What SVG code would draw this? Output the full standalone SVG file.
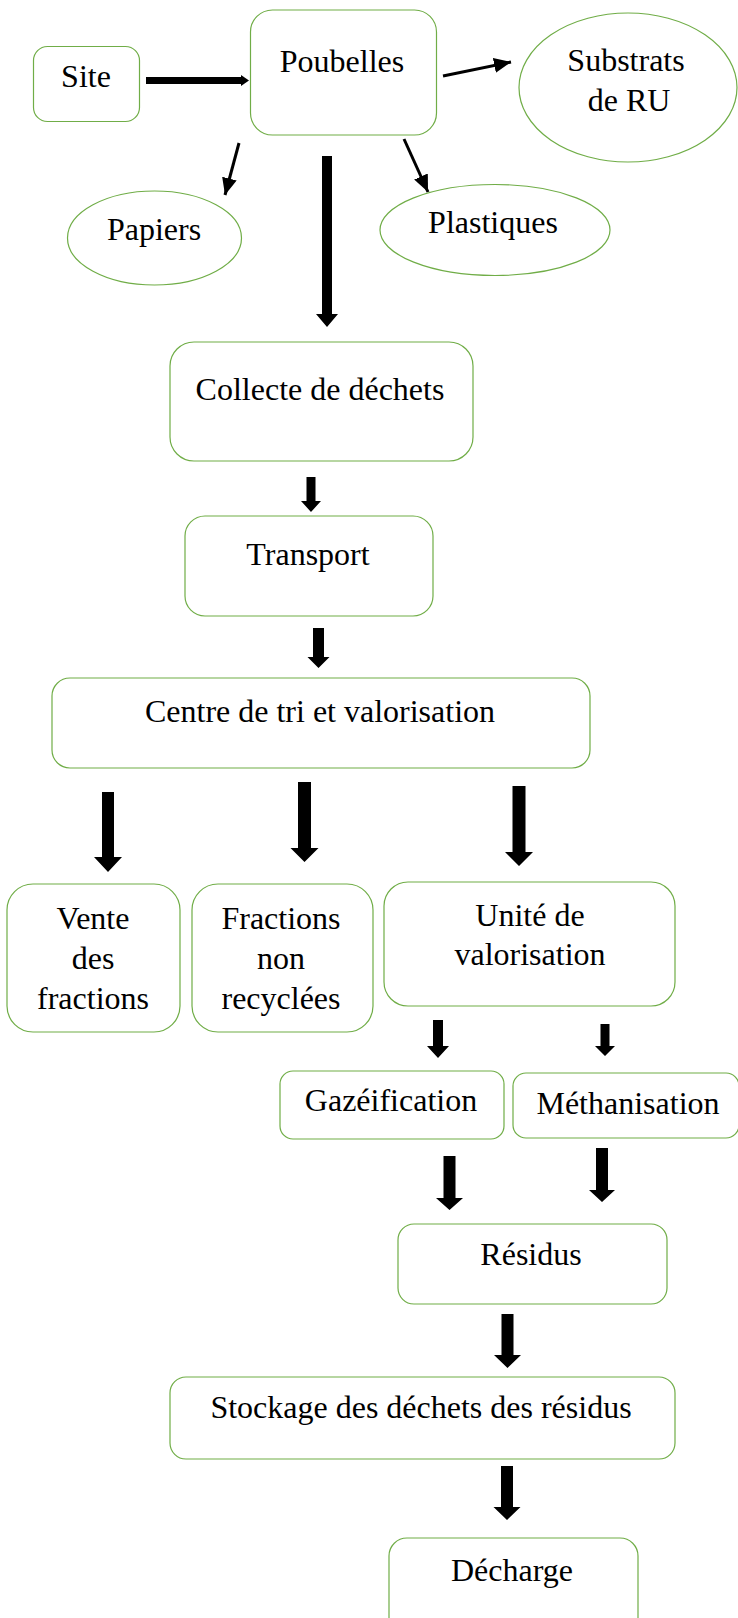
<svg xmlns="http://www.w3.org/2000/svg" width="738" height="1618" viewBox="0 0 738 1618">
<defs>
<style>
.box{fill:#fff;stroke:#70AD47;stroke-width:1.2}
.t{font-family:"Liberation Serif","Times New Roman",serif;font-size:32px;fill:#000;text-anchor:middle}
.blk{fill:#000}
.thin{stroke:#000;stroke-width:3;fill:none}
</style>
<marker id="ah" markerUnits="userSpaceOnUse" markerWidth="18" markerHeight="16" refX="17" refY="7.5" orient="auto" viewBox="0 0 18 16">
<path d="M0,0 L17,7.5 L0,15 z" fill="#000"/>
</marker>
</defs>
<rect width="738" height="1618" fill="#fff"/>

<g id="site"><rect class="box" x="33.5" y="46.5" width="106" height="75" rx="14"/><text class="t" x="86" y="87">Site</text></g>
<g id="poubelles"><rect class="box" x="250.5" y="10" width="186" height="125" rx="22"/><text class="t" x="342" y="72">Poubelles</text></g>
<g id="substrats"><ellipse class="box" cx="628" cy="87.5" rx="109" ry="74.5"/><text class="t" x="626" y="71">Substrats</text><text class="t" x="629" y="111">de RU</text></g>
<g id="papiers"><ellipse class="box" cx="154.5" cy="238" rx="87" ry="47"/><text class="t" x="154" y="240">Papiers</text></g>
<g id="plastiques"><ellipse class="box" cx="495" cy="230" rx="115" ry="45.5"/><text class="t" x="493" y="233">Plastiques</text></g>
<g id="collecte"><rect class="box" x="170" y="342" width="303" height="119" rx="24"/><text class="t" x="320" y="400">Collecte de déchets</text></g>
<g id="transport"><rect class="box" x="185" y="516" width="248" height="100" rx="20"/><text class="t" x="308" y="565">Transport</text></g>
<g id="centre"><rect class="box" x="52" y="678" width="538" height="90" rx="18"/><text class="t" x="320" y="722">Centre de tri et valorisation</text></g>
<g id="vente"><rect class="box" x="7" y="884" width="173" height="148" rx="26"/><text class="t" x="93" y="929">Vente</text><text class="t" x="93" y="969">des</text><text class="t" x="93" y="1009">fractions</text></g>
<g id="fractions"><rect class="box" x="192" y="884" width="181" height="148" rx="26"/><text class="t" x="281" y="929">Fractions</text><text class="t" x="281" y="969">non</text><text class="t" x="281" y="1009">recyclées</text></g>
<g id="unite"><rect class="box" x="384" y="882" width="291" height="124" rx="24"/><text class="t" x="530" y="926">Unité de</text><text class="t" x="530" y="965">valorisation</text></g>
<g id="gazeification"><rect class="box" x="280" y="1071" width="224" height="68" rx="13"/><text class="t" x="391" y="1111">Gazéification</text></g>
<g id="methanisation"><rect class="box" x="513" y="1073" width="226" height="65" rx="13"/><text class="t" x="628" y="1114">Méthanisation</text></g>
<g id="residus"><rect class="box" x="398" y="1224" width="269" height="80" rx="16"/><text class="t" x="531" y="1265">Résidus</text></g>
<g id="stockage"><rect class="box" x="170" y="1377" width="505" height="82" rx="16"/><text class="t" x="421" y="1418">Stockage des déchets des résidus</text></g>
<g id="decharge"><rect class="box" x="389" y="1538" width="249" height="110" rx="18"/><text class="t" x="512" y="1581">Décharge</text></g>

<g id="connectors">
<polygon class="blk" points="146,77 241,77 241,75 249,80.5 241,86 241,84 146,84"/>
<line class="thin" x1="443" y1="76" x2="511" y2="62" marker-end="url(#ah)"/>
<line class="thin" x1="239" y1="143" x2="225" y2="195" marker-end="url(#ah)"/>
<line class="thin" x1="404" y1="139" x2="428" y2="192" marker-end="url(#ah)"/>
<polygon class="blk" points="322,156 332,156 332,314 338,314 327,327 316,314 322,314"/>
<polygon class="blk" points="306.5,477 315.5,477 315.5,501 321,501 311,512 301,501 306.5,501"/>
<polygon class="blk" points="313,628 324,628 324,657 329.5,657 318.5,668 307.5,657 313,657"/>
<polygon class="blk" points="102,792 114,792 114,857 122,857 108,872 94,857 102,857"/>
<polygon class="blk" points="298,782 311,782 311,848 318.5,848 304.5,862 290.5,848 298,848"/>
<polygon class="blk" points="512.5,786 525.5,786 525.5,852 533,852 519,866 505,852 512.5,852"/>
<polygon class="blk" points="433,1020 443,1020 443,1046 449,1046 438,1058 427,1046 433,1046"/>
<polygon class="blk" points="600.5,1024 609.5,1024 609.5,1046 615,1046 605,1056 595,1046 600.5,1046"/>
<polygon class="blk" points="443.5,1156 455.5,1156 455.5,1198 463,1198 449.5,1210 436,1198 443.5,1198"/>
<polygon class="blk" points="596,1148 608,1148 608,1190 615,1190 602,1202 589,1190 596,1190"/>
<polygon class="blk" points="501.5,1314 513.5,1314 513.5,1355 521,1355 507.5,1368 494,1355 501.5,1355"/>
<polygon class="blk" points="501,1466 513,1466 513,1507 520.5,1507 507,1520 493.5,1507 501,1507"/>
</g>
</svg>
